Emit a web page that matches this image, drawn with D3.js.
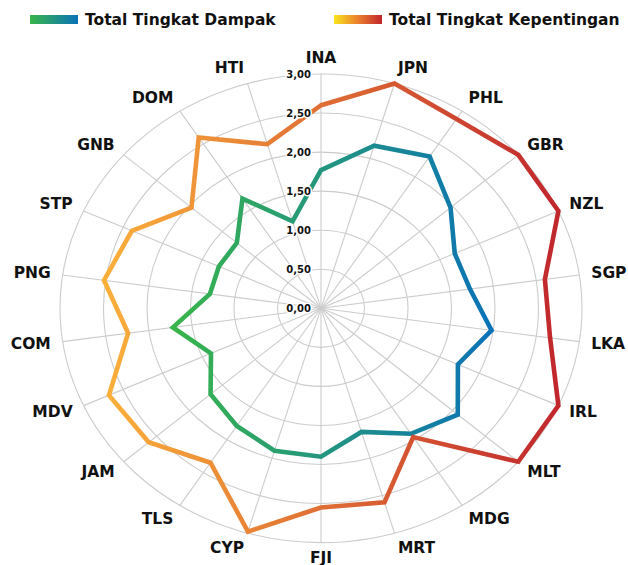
<!DOCTYPE html>
<html lang="en">
<head>
  <meta charset="UTF-8">
  <title>Radar</title>
  <script src="https://d3js.org/d3.v7.min.js"></script>
  <style>
    body { margin: 0; background: #fff; }
    text { font-family: "DejaVu Sans", sans-serif; font-weight: bold; fill: #111; }
  </style>
</head>
<body>
  <script>
    const categories = ["INA", "JPN", "PHL", "GBR", "NZL", "SGP", "LKA", "IRL", "MLT", "MDG", "MRT",
      "FJI", "CYP", "TLS", "JAM", "MDV", "COM", "PNG", "STP", "GNB", "DOM", "HTI"];
    const dampak = [1.77, 2.17, 2.31, 1.97, 1.69, 1.73, 1.98, 1.73, 2.08, 1.91, 1.65,
      1.90, 1.90, 1.79, 1.68, 1.39, 1.72, 1.29, 1.29, 1.28, 1.67, 1.16];
    const kepentingan = [2.60, 3.00, 2.88, 3.00, 3.00, 2.60, 2.66, 3.00, 3.00, 1.96, 2.59,
      2.55, 2.98, 2.35, 2.62, 2.68, 2.24, 2.52, 2.39, 1.97, 2.60, 2.19];
    const ticks = [0, 0.5, 1, 1.5, 2, 2.5, 3];
    const seriesNames = ["Total Tingkat Dampak", "Total Tingkat Kepentingan"];

    const width = 628, height = 565;
    const cx = 321, cy = 308.3;
    const rx = 261, ry = 234.3;

    const svg = d3.select("body").append("svg")
      .attr("width", width)
      .attr("height", height);

    const defs = svg.append("defs");
    const grad = (id, stops) => {
      const g = defs.append("linearGradient").attr("id", id)
        .attr("x1", 0).attr("x2", 1).attr("y1", 0).attr("y2", 0);
      stops.forEach(s => g.append("stop").attr("offset", s[0]).attr("stop-color", s[1]));
    };
    grad("gDampak", [[0, "#39b54a"], [1, "#0a72b8"]]);
    grad("gKep", [[0, "#fbb03b"], [1, "#c1272d"]]);
    grad("lgDampak", [[0, "#39b54a"], [1, "#0a72b8"]]);
    grad("lgKep", [[0, "#f8e51c"], [0.5, "#eb7f2e"], [1, "#c1272d"]]);

    // separate radial scales, the chart is wider than tall
    const sx = d3.scaleLinear().domain([0, 3]).range([0, rx]);
    const sy = d3.scaleLinear().domain([0, 3]).range([0, ry]);
    const step = 2 * Math.PI / categories.length;
    const theta = c => categories.indexOf(c) * step;

    const px = (c, v) => cx + sx(v) * Math.sin(theta(c));
    const py = (c, v) => cy - sy(v) * Math.cos(theta(c));

    // grid rings
    svg.append("g").selectAll("ellipse")
      .data(ticks.slice(1))
      .join("ellipse")
      .attr("cx", cx).attr("cy", cy)
      .attr("rx", d => sx(d)).attr("ry", d => sy(d))
      .attr("fill", "none")
      .attr("stroke", "#cccccc")
      .attr("stroke-width", 1.1);

    // spokes
    svg.append("g").selectAll("line")
      .data(categories)
      .join("line")
      .attr("x1", cx).attr("y1", cy)
      .attr("x2", d => px(d, 3)).attr("y2", d => py(d, 3))
      .attr("stroke", "#cccccc")
      .attr("stroke-width", 1.1);

    // series lines
    const line = d3.line().curve(d3.curveLinearClosed);
    const drawSeries = (values, fill) => {
      svg.append("path")
        .datum(categories.map((c, i) => [px(c, values[i]), py(c, values[i])]))
        .attr("d", line)
        .attr("fill", "none")
        .attr("stroke", `url(#${fill})`)
        .attr("stroke-width", 4.6)
        .attr("stroke-linejoin", "miter");
    };
    drawSeries(dampak, "gDampak");
    drawSeries(kepentingan, "gKep");

    // tick labels
    const fmt = d => d3.format(".2f")(d).replace(".", ",");
    svg.append("g").selectAll("text")
      .data(ticks)
      .join("text")
      .attr("x", cx - 10)
      .attr("y", d => cy - sy(d))
      .attr("text-anchor", "end")
      .attr("dominant-baseline", "central")
      .attr("font-size", 10)
      .attr("fill", "#222")
      .attr("stroke", "#fff")
      .attr("stroke-width", 3)
      .attr("paint-order", "stroke")
      .text(fmt);

    // category labels
    svg.append("g").selectAll("text")
      .data(categories)
      .join("text")
      .attr("x", d => cx + 273 * Math.sin(theta(d)))
      .attr("y", d => cy - 250 * Math.cos(theta(d)))
      .attr("text-anchor", d => {
        const s = Math.sin(theta(d));
        return Math.abs(s) < 0.01 ? "middle" : (s > 0 ? "start" : "end");
      })
      .attr("dominant-baseline", "central")
      .attr("font-size", 15.5)
      .text(d => d);

    // legend
    const legend = [
      { name: seriesNames[0], fill: "lgDampak", x: 30 },
      { name: seriesNames[1], fill: "lgKep", x: 334 }
    ];
    const lg = svg.append("g").selectAll("g")
      .data(legend)
      .join("g")
      .attr("transform", d => `translate(${d.x},15)`);
    lg.append("rect")
      .attr("width", 48).attr("height", 9)
      .attr("fill", d => `url(#${d.fill})`);
    lg.append("text")
      .attr("x", 55).attr("y", 4.8)
      .attr("dominant-baseline", "central")
      .attr("font-size", 15.5)
      .text(d => d.name);
  </script>
</body>
</html>
